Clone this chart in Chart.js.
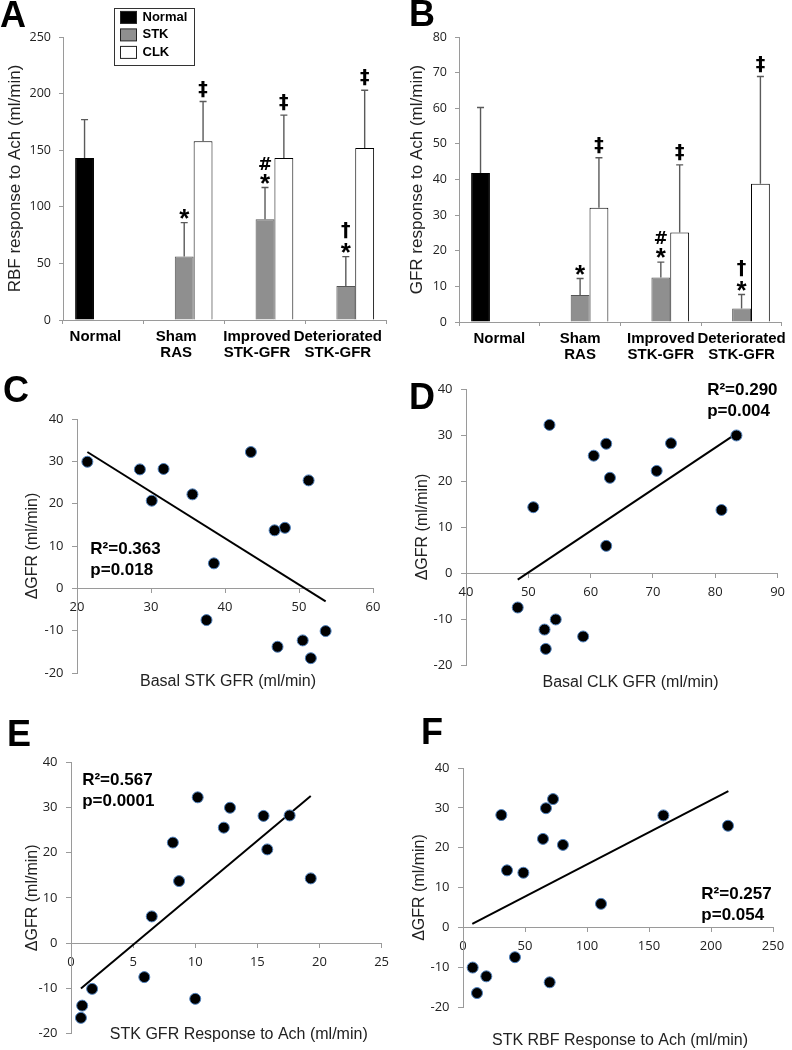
<!DOCTYPE html>
<html>
<head>
<meta charset="utf-8">
<script src="https://cdn.jsdelivr.net/npm/chart.js@4.4.1/dist/chart.umd.min.js"></script>
<style>
  body { margin: 0; background: #fff; width: 792px; height: 1050px; position: relative; overflow: hidden; }
  canvas { position: absolute; }
  .letter { position: absolute; font: bold 36px 'Liberation Sans', Arial, sans-serif; line-height: 36px; color: #000; }
</style>
</head>
<body>
<canvas id="chartA" width="396" height="360" style="left:0;top:0"></canvas>
<canvas id="chartB" width="396" height="360" style="left:396px;top:0"></canvas>
<canvas id="chartC" width="396" height="340" style="left:0;top:360px"></canvas>
<canvas id="chartD" width="396" height="340" style="left:396px;top:360px"></canvas>
<canvas id="chartE" width="396" height="350" style="left:0;top:700px"></canvas>
<canvas id="chartF" width="396" height="350" style="left:396px;top:700px"></canvas>
<div class="letter" style="left:0;top:-3px">A</div>
<div class="letter" style="left:409px;top:-4px">B</div>
<div class="letter" style="left:3px;top:372px">C</div>
<div class="letter" style="left:409px;top:379px">D</div>
<div class="letter" style="left:7px;top:716px">E</div>
<div class="letter" style="left:421px;top:714px">F</div>
<script>
// ---- bar panels (A, B) ----
const groups = [['Normal'], ['Sham', 'RAS'], ['Improved', 'STK-GFR'], ['Deteriorated', 'STK-GFR']];
const seriesNames = ['Normal', 'STK', 'CLK'];

const rbfNormal = [143, null, null, null];
const rbfStk = [null, 56, 89, 30];
const rbfClk = [null, 158, 143, 152];
const rbfNormalErr = [34, null, null, null];
const rbfStkErr = [null, 30, 28, 26];
const rbfClkErr = [null, 35, 38, 51];

const gfrNormal = [41.8, null, null, null];
const gfrStk = [null, 7.6, 12.5, 3.8];
const gfrClk = [null, 32.1, 25.1, 38.8];
const gfrNormalErr = [18.4, null, null, null];
const gfrStkErr = [null, 4.6, 4.3, 3.9];
const gfrClkErr = [null, 14, 19, 30.1];

const normalMarks = [[], [], [], []];
const stkMarks = [[], ['*'], ['*', '#'], ['*', '†']];
const clkMarks = [[], ['‡'], ['‡'], ['‡']];

// ---- scatter panels (C-F), same 15 kidneys ----
const deltaGfr = [32.2, 29.9, 28.2, 28.1, 25.5, 22.2, 20.7, 14.3, 13.7, 5.9, -7.5, -10.1, -12.3, -13.8, -16.5];
const basalStkGfr = [43.5, 21.4, 31.7, 28.5, 51.3, 35.6, 30.1, 48.1, 46.7, 38.5, 37.5, 53.6, 50.5, 47.1, 51.6];
const basalClkGfr = [53.4, 83.4, 72.9, 62.5, 60.5, 70.6, 63.1, 50.8, 81.0, 62.5, 48.3, 54.4, 52.6, 58.8, 52.8];
const stkGfrAch = [10.2, 12.8, 17.6, 15.5, 12.3, 8.2, 15.8, 19.3, 8.7, 6.5, 5.9, 1.7, 10.0, 0.9, 0.8];
const stkRbfAch = [72.6, 66.9, 30.9, 161.6, 213.7, 64.5, 80.6, 35.5, 48.7, 111.3, 41.9, 7.8, 18.8, 69.9, 11.3];

// trend line ends
const fitC = { x: [21.4, 53.6], y: [32.2, -3.1] };
const fitD = { x: [48.3, 82.6], y: [-1.45, 29.6] };
const fitE = { x: [0.8, 19.3], y: [-10.0, 32.5] };
const fitF = { x: [7.5, 214], y: [0.85, 34.2] };

const statsC = ['R²=0.363', 'p=0.018'];
const statsD = ['R²=0.290', 'p=0.004'];
const statsE = ['R²=0.567', 'p=0.0001'];
const statsF = ['R²=0.257', 'p=0.054'];

const SANS = "'Liberation Sans', Arial, sans-serif";
const NUM = "'Open Sans', sans-serif";
const AXIS = '#9a9a9a';
const markFont = {
  '*': 'bold 26px ' + SANS,
  '#': 'bold 17px "DejaVu Sans", sans-serif',
  '†': 'bold 19px "DejaVu Sans", sans-serif',
  '‡': 'bold 19px "DejaVu Sans", sans-serif'
};

const extras = {
  id: 'extras',
  afterDatasetsDraw(chart, args, o) {
    const ctx = chart.ctx;
    if (o.errors) {
      const ys = chart.scales.y;
      chart.data.datasets.forEach((ds, i) => {
        const meta = chart.getDatasetMeta(i);
        ds.data.forEach((v, j) => {
          const err = o.errors[i][j];
          if (v == null || err == null) return;
          const bar = meta.data[j];
          const top = ys.getPixelForValue(v + err);
          ctx.save();
          ctx.strokeStyle = '#5a5a5a';
          ctx.lineWidth = 1.4;
          ctx.beginPath();
          ctx.moveTo(bar.x, bar.y); ctx.lineTo(bar.x, top);
          ctx.moveTo(bar.x - 3.5, top); ctx.lineTo(bar.x + 3.5, top);
          ctx.stroke();
          let base = top - 4;
          o.marks[i][j].forEach(m => {
            ctx.font = markFont[m];
            const mt = ctx.measureText(m);
            ctx.fillStyle = '#000';
            ctx.textAlign = 'center';
            ctx.textBaseline = 'alphabetic';
            ctx.fillText(m, bar.x, base - mt.actualBoundingBoxDescent);
            base = base - mt.actualBoundingBoxDescent - mt.actualBoundingBoxAscent - 4;
          });
          ctx.restore();
        });
      });
    }
  },
  afterDraw(chart, args, o) {
    const ctx = chart.ctx;
    const area = chart.chartArea;
    ctx.save();
    if (o.legendBox) {
      const b = o.legendBox;
      ctx.fillStyle = '#fff';
      ctx.fillRect(b.x, b.y, b.w, b.h);
      ctx.strokeStyle = '#333';
      ctx.lineWidth = 1;
      ctx.strokeRect(b.x + 0.5, b.y + 0.5, b.w, b.h);
      chart.data.datasets.forEach((ds, i) => {
        const cy = b.y + 9.4 + i * 17.5;
        ctx.fillStyle = ds.backgroundColor;
        ctx.fillRect(b.x + 6.5, cy - 6, 16, 12);
        ctx.strokeStyle = '#222';
        ctx.strokeRect(b.x + 6.5, cy - 6, 16, 12);
        ctx.fillStyle = '#000';
        ctx.font = 'bold 13px ' + SANS;
        ctx.textAlign = 'left';
        ctx.textBaseline = 'middle';
        ctx.fillText(ds.label, b.x + 28.5, cy);
      });
    }
    if (o.note) {
      const n = o.note;
      const px = chart.scales.x.getPixelForValue(n.x);
      const py = chart.scales.y.getPixelForValue(n.y);
      ctx.fillStyle = '#000';
      ctx.font = 'bold 17px ' + SANS;
      ctx.textAlign = 'left';
      ctx.textBaseline = 'middle';
      n.lines.forEach((t, k) => ctx.fillText(t, px, py + k * 21));
    }
    if (o.xTitle) {
      ctx.fillStyle = '#222';
      ctx.font = '16px ' + SANS;
      ctx.textAlign = 'center';
      ctx.textBaseline = 'middle';
      ctx.fillText(o.xTitle.text, (area.left + area.right) / 2 + o.xTitle.dx, area.bottom + o.xTitle.dy);
    }
    ctx.restore();
  }
};
Chart.register(extras);
Chart.defaults.devicePixelRatio = 1;

function barPanel(id, normal, stk, clk, errs, yMax, yStep, yTitle, g) {
  return new Chart(document.getElementById(id), {
    type: 'bar',
    data: {
      labels: groups,
      datasets: [
        { label: seriesNames[0], data: normal, backgroundColor: '#000000', borderColor: '#000000', borderWidth: 1 },
        { label: seriesNames[1], data: stk, backgroundColor: '#8f8f8f', borderColor: '#555555', borderWidth: 1 },
        { label: seriesNames[2], data: clk, backgroundColor: '#ffffff', borderColor: '#000000', borderWidth: 1 }
      ]
    },
    options: {
      responsive: false,
      animation: false,
      categoryPercentage: 0.7,
      barPercentage: 1.0,
      layout: { padding: { top: 37, right: g.right, left: 0, bottom: 0 } },
      plugins: {
        legend: { display: false },
        tooltip: { enabled: false },
        extras: { errors: errs, marks: [normalMarks, stkMarks, clkMarks], legendBox: g.legend }
      },
      scales: {
        x: {
          ticks: { font: { family: SANS, size: 15, weight: 'bold', lineHeight: 1.07 }, color: '#000', padding: 5,
                   maxRotation: 0, minRotation: 0, autoSkip: false, labelOffset: g.labelOffset },
          grid: { display: true, drawOnChartArea: false, drawTicks: true, tickLength: 4, color: AXIS, offset: true },
          border: { color: AXIS },
          afterFit: s => { s.height = g.xHeight; }
        },
        y: {
          min: 0, max: yMax,
          ticks: { stepSize: yStep, font: { family: NUM, size: 12.5 }, color: '#222', padding: 8 },
          grid: { display: true, drawOnChartArea: false, drawTicks: true, tickLength: 4, color: AXIS },
          border: { color: AXIS },
          title: { display: true, text: yTitle, font: { family: SANS, size: 17 }, color: '#222', padding: { top: g.titlePad, bottom: 0 } },
          afterFit: s => { s.width = 63; }
        }
      }
    }
  });
}

function scatterPanel(id, xs, fit, xMin, xMax, xStep, xTitle, stats, g) {
  return new Chart(document.getElementById(id), {
    type: 'scatter',
    data: {
      datasets: [
        { data: xs.map((x, i) => ({ x: x, y: deltaGfr[i] })), backgroundColor: '#000', borderColor: '#4f81bd',
          borderWidth: 1, pointRadius: 5.5, order: 1 },
        { data: fit.x.map((x, i) => ({ x: x, y: fit.y[i] })), showLine: true, borderColor: '#000', borderWidth: 2,
          pointRadius: 0, order: 2 }
      ]
    },
    options: {
      responsive: false,
      animation: false,
      layout: { padding: g.pad },
      plugins: {
        legend: { display: false },
        tooltip: { enabled: false },
        extras: { note: { x: g.note[0], y: g.note[1], lines: stats }, xTitle: { text: xTitle, dx: g.xt[0], dy: g.xt[1] } }
      },
      scales: {
        x: {
          type: 'linear', position: { y: 0 }, min: xMin, max: xMax,
          ticks: { stepSize: xStep, font: { family: NUM, size: 13 }, color: '#222', padding: 7 },
          grid: { display: true, drawOnChartArea: false, drawTicks: true, tickLength: 4, color: AXIS },
          border: { color: AXIS }
        },
        y: {
          min: -20, max: 40,
          ticks: { stepSize: 10, font: { family: NUM, size: 13 }, color: '#222', padding: 8.5 },
          grid: { display: true, drawOnChartArea: false, drawTicks: true, tickLength: 5, color: AXIS },
          border: { color: AXIS },
          title: { display: true, text: 'ΔGFR (ml/min)', font: { family: SANS, size: 16 }, color: '#222', padding: { top: g.titlePad, bottom: 0 } },
          afterFit: s => { s.width = g.yWidth; }
        }
      }
    }
  });
}

barPanel('chartA', rbfNormal, rbfStk, rbfClk, [rbfNormalErr, rbfStkErr, rbfClkErr], 250, 50,
  'RBF response to Ach (ml/min)',
  { right: 8, xHeight: 40, titlePad: 4.8, labelOffset: -8, legend: { x: 114, y: 8, w: 80, h: 57 } });
barPanel('chartB', gfrNormal, gfrStk, gfrClk, [gfrNormalErr, gfrStkErr, gfrClkErr], 80, 10,
  'GFR response to Ach (ml/min)',
  { right: 10, xHeight: 38, titlePad: 11.5, labelOffset: 0, legend: null });

scatterPanel('chartC', basalStkGfr, fitC, 20, 60, 10, 'Basal STK GFR (ml/min)', statsC,
  { pad: { top: 59, right: 23, bottom: 27, left: 0 }, yWidth: 77, titlePad: 23.4, xt: [3, 9], note: [21.8, 9.1] });
scatterPanel('chartD', basalClkGfr, fitD, 40, 90, 10, 'Basal CLK GFR (ml/min)', statsD,
  { pad: { top: 29, right: 12, bottom: 35, left: 0 }, yWidth: 70, titlePad: 17.4, xt: [8.7, 17.7], note: [78.7, 39.7] });
scatterPanel('chartE', stkGfrAch, fitE, 0, 25, 5, 'STK GFR Response to Ach (ml/min)', statsE,
  { pad: { top: 62, right: 14, bottom: 11, left: 0 }, yWidth: 71, titlePad: 23, xt: [12.5, 1], note: [0.9, 36] });
scatterPanel('chartF', stkRbfAch, fitF, 0, 250, 50, 'STK RBF Response to Ach (ml/min)', statsF,
  { pad: { top: 68, right: 19, bottom: 43, left: 0 }, yWidth: 67, titlePad: 14.4, xt: [2, 34], note: [192.2, 8.4] });
</script>
</body>
</html>
